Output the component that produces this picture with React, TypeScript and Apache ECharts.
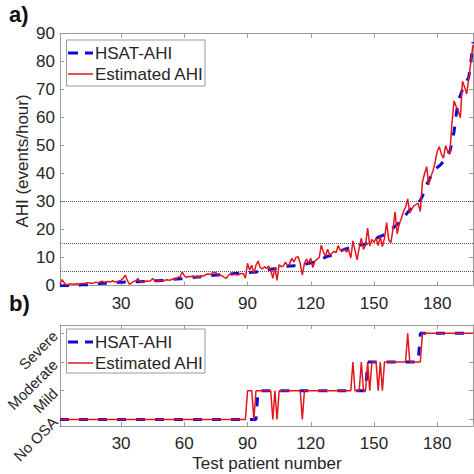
import React, { useEffect, useRef } from "react";
import * as echarts from "echarts";

// ---------- data ----------
const xTicks = [30, 60, 90, 120, 150, 180];
const ahiTicksMax = 90;
const thresholds = [5, 15, 30];
const classLabels = ["No OSA", "Mild", "Moderate", "Severe"];
const classTicks = [0, 1, 2, 3];

// HSAT-AHI, patients 1..197 (sorted)
const hsatAhi = [
  0, 0, 0, 0, 0, 0.1, 0.1, 0.2, 0.2, 0.2,
  0.3, 0.3, 0.3, 0.3, 0.4, 0.5, 0.6, 0.7, 0.8, 0.8,
  0.9, 0.9, 0.9, 1.0, 1.0, 1.0, 1.1, 1.1, 1.2, 1.2,
  1.2, 1.3, 1.3, 1.3, 1.3, 1.4, 1.4, 1.4, 1.4, 1.5,
  1.5, 1.5, 1.6, 1.6, 1.7, 1.8, 1.8, 1.8, 1.9, 1.9,
  2.0, 2.0, 2.1, 2.2, 2.3, 2.4, 2.4, 2.5, 2.5, 2.6,
  2.7, 2.8, 2.9, 3.0, 3.0, 3.1, 3.1, 3.2, 3.2, 3.3,
  3.4, 3.5, 3.6, 3.7, 3.8, 3.8, 3.9, 3.9, 4.0, 4.0,
  4.1, 4.2, 4.3, 4.4, 4.4, 4.5, 4.5, 4.6, 4.6, 4.7,
  4.7, 4.8, 4.8, 4.9, 5.0, 5.1, 5.2, 5.3, 5.5, 5.7,
  5.9, 6.0, 6.1, 6.2, 6.3, 6.5, 6.6, 6.8, 6.9, 7.0,
  7.0, 7.1, 7.1, 7.2, 7.3, 7.5, 7.6, 7.8, 8.0, 8.1,
  8.3, 8.4, 8.7, 9.0, 9.4, 9.8, 10.2, 10.5, 10.7, 10.9,
  11.2, 11.6, 12.0, 12.4, 12.7, 13.0, 13.2, 13.4, 13.6, 13.8,
  14.0, 14.2, 14.4, 14.6, 14.7, 14.9, 15.2, 15.6, 16.0, 16.4,
  16.9, 17.3, 17.6, 17.9, 18.3, 18.8, 19.4, 20.0, 20.6, 21.2,
  21.8, 22.6, 23.4, 24.3, 25.2, 26.2, 27.0, 27.8, 28.5, 29.1,
  29.7, 30.5, 32.0, 34.0, 36.0, 37.5, 39.0, 40.5, 41.5, 42.2,
  42.8, 43.5, 44.5, 45.5, 47.0, 48.0, 51.0, 55.0, 61.0, 66.0,
  68.0, 70.0, 71.5, 73.0, 74.5, 80.0, 87.0,
];

// Estimated AHI, patients 1..197
const estAhi = [
  0.5, 2.2, 1.0, 0.3, 0.5, 0.6, 0.6, 0.5, 0.7, 0.6,
  0.7, 0.8, 0.9, 1.1, 1.0, 0.9, 1.0, 1.2, 1.1, 1.3,
  1.6, 1.2, 1.4, 1.5, 1.3, 1.8, 1.3, 1.5, 1.7, 2.0,
  2.6, 3.8, 1.8, 0.5, 1.0, 1.5, 1.8, 2.6, 1.4, 1.2,
  1.5, 1.7, 1.6, 1.8, 2.6, 1.6, 1.5, 1.8, 1.9, 1.8,
  2.0, 2.1, 1.9, 2.2, 2.5, 2.3, 3.0, 3.2, 4.9, 3.5,
  3.0, 3.3, 3.2, 3.5, 3.1, 3.3, 3.0, 3.6, 3.4, 3.9,
  4.2, 4.0, 4.4, 4.8, 4.6, 3.8, 3.7, 3.5, 3.0, 2.6,
  3.8, 4.2, 3.9, 4.1, 3.8, 4.0, 4.4, 4.3, 2.7, 8.0,
  5.6, 7.3, 4.3, 7.3, 8.8, 6.5, 6.0, 6.8, 6.2, 7.0,
  5.5, 2.6, 6.5, 1.9, 7.5, 6.8, 7.0, 8.4, 7.2, 7.8,
  9.8, 8.5, 10.1, 10.4, 8.0, 3.8, 8.0, 9.5, 8.0, 9.8,
  6.5, 8.8, 9.5, 10.0, 14.5, 12.0, 10.5, 13.0, 11.0, 11.5,
  12.3, 11.8, 14.3, 12.7, 12.5, 13.0, 12.0, 12.8, 9.9, 16.0,
  12.5, 9.2, 13.5, 17.0, 13.0, 14.5, 20.6, 14.2, 16.5, 15.5,
  17.0, 14.3, 17.5, 14.0, 17.0, 22.5, 16.5, 15.3, 20.0, 26.4,
  18.5, 22.0, 24.0, 26.4, 28.0, 31.0, 26.0, 27.5, 28.5, 29.0,
  29.5, 26.5, 37.0, 40.0, 42.5, 36.0, 39.0, 41.0, 44.0, 48.0,
  49.6, 47.0, 45.6, 50.0, 48.0, 47.0, 58.0, 66.0, 64.0, 62.5,
  60.0, 73.0, 71.0, 68.5, 74.0, 80.0, 86.0,
];

// ---------- styles ----------
const FONT = "'Liberation Sans', Arial, Helvetica, sans-serif";
const TXT = "#262626";
const AX = "#9a9a9a";
const BLUE = "#0b0bd8";
const RED = "#e3161c";
const FS = 17;
const FS_ROT = 15;

const toClass = (v: number) =>
  v < thresholds[0] ? 0 : v < thresholds[1] ? 1 : v < thresholds[2] ? 2 : 3;

export default function App() {
  const ref = useRef<HTMLDivElement>(null);

  useEffect(() => {
    if (!ref.current) return;
    const chart = echarts.init(ref.current, undefined, { renderer: "svg" });
    const n = hsatAhi.length;
    const xMin = 1;
    const xMax = n;

    const hsatPts = hsatAhi.map((v, i) => [i + 1, v]);
    const estPts = estAhi.map((v, i) => [i + 1, v]);
    const hsatCls = hsatAhi.map((v, i) => [i + 1, toClass(v)]);
    const estCls = estAhi.map((v, i) => [i + 1, toClass(v)]);

    const xAx = (gridIndex: number, position: string, showLabel: boolean) => ({
      type: "value",
      gridIndex,
      position,
      min: xMin,
      max: xMax,
      axisLine: { show: true, onZero: false, lineStyle: { color: AX, width: 1 } },
      axisTick: { show: true, inside: true, length: 4, customValues: xTicks, lineStyle: { color: AX } },
      axisLabel: {
        show: showLabel,
        customValues: xTicks,
        color: TXT,
        fontSize: FS,
        margin: 9,
        fontFamily: FONT,
      },
      splitLine: { show: false },
    });

    const yAhi = (position: string, showLabel: boolean) => ({
      type: "value",
      gridIndex: 0,
      position,
      min: 0,
      max: ahiTicksMax,
      interval: 10,
      axisLine: { show: true, onZero: false, lineStyle: { color: AX, width: 1 } },
      axisTick: { show: true, inside: true, length: 4, lineStyle: { color: AX } },
      axisLabel: { show: showLabel, color: TXT, fontSize: FS, margin: 5, fontFamily: FONT },
      splitLine: { show: false },
    });

    const yCls = (position: string, showLabel: boolean) => ({
      type: "value",
      gridIndex: 1,
      position,
      min: -0.23,
      max: 3.29,
      axisLine: { show: true, onZero: false, lineStyle: { color: AX, width: 1 } },
      axisTick: { show: true, inside: true, length: 4, customValues: classTicks, lineStyle: { color: AX } },
      axisLabel: {
        show: showLabel,
        customValues: classTicks,
        formatter: (v: number) => classLabels[Math.round(v)],
        rotate: 45,
        color: TXT,
        fontSize: FS_ROT,
        margin: 5,
        fontFamily: FONT,
      },
      splitLine: { show: false },
    });

    const legend = (top: number, h: number) => ({
      type: "group",
      z: 100,
      children: [
        {
          type: "rect",
          shape: { x: 66.5, y: top, width: 138.5, height: h },
          style: { fill: "#fff", stroke: AX, lineWidth: 1 },
        },
        {
          type: "line",
          shape: { x1: 68, y1: top + 13, x2: 93, y2: top + 13 },
          style: { stroke: BLUE, lineWidth: 3, lineDash: [10, 7] },
        },
        {
          type: "text",
          x: 95,
          y: top + 13,
          style: { text: "HSAT-AHI", fill: TXT, fontSize: FS, fontFamily: FONT, verticalAlign: "middle" },
        },
        {
          type: "line",
          shape: { x1: 68, y1: top + 34, x2: 93, y2: top + 34 },
          style: { stroke: RED, lineWidth: 1.5 },
        },
        {
          type: "text",
          x: 95,
          y: top + 34,
          style: { text: "Estimated AHI", fill: TXT, fontSize: FS, fontFamily: FONT, verticalAlign: "middle" },
        },
      ],
    });

    const option = {
      animation: false,
      textStyle: { fontFamily: FONT },
      grid: [
        { left: 60, top: 33.7, width: 413, height: 252, containLabel: false, outerBoundsMode: "none" },
        { left: 60, top: 325, width: 413, height: 101, containLabel: false, outerBoundsMode: "none" },
      ],
      xAxis: [xAx(0, "bottom", true), xAx(0, "top", false), xAx(1, "bottom", true), xAx(1, "top", false)],
      yAxis: [yAhi("left", true), yAhi("right", false), yCls("left", true), yCls("right", false)],
      series: [
        {
          type: "line",
          name: "HSAT-AHI",
          xAxisIndex: 0,
          yAxisIndex: 0,
          data: hsatPts,
          showSymbol: false,
          symbol: "none",
          lineStyle: { color: BLUE, width: 3, type: [9, 10], cap: "butt" },
          z: 2,
          markLine: {
            silent: true,
            symbol: "none",
            label: { show: false },
            lineStyle: { color: "#555", width: 1, type: "dotted" },
            data: thresholds.map((t) => ({ yAxis: t })),
            z: 1,
          },
        },
        {
          type: "line",
          name: "Estimated AHI",
          xAxisIndex: 0,
          yAxisIndex: 0,
          data: estPts,
          showSymbol: false,
          symbol: "none",
          lineStyle: { color: RED, width: 1.5 },
          z: 3,
        },
        {
          type: "line",
          name: "HSAT class",
          xAxisIndex: 2,
          yAxisIndex: 2,
          data: hsatCls,
          showSymbol: false,
          symbol: "none",
          lineStyle: { color: BLUE, width: 3, type: [9, 10], cap: "butt" },
          z: 2,
        },
        {
          type: "line",
          name: "Estimated class",
          xAxisIndex: 2,
          yAxisIndex: 2,
          data: estCls,
          showSymbol: false,
          symbol: "none",
          lineStyle: { color: RED, width: 1.5 },
          z: 3,
        },
      ],
      graphic: [
        {
          type: "text",
          x: 9,
          y: 3,
          style: { text: "a)", fill: "#111", fontSize: 22, fontWeight: "bold", fontFamily: FONT },
        },
        {
          type: "text",
          x: 9,
          y: 292,
          style: { text: "b)", fill: "#111", fontSize: 22, fontWeight: "bold", fontFamily: FONT },
        },
        {
          type: "text",
          x: 22,
          y: 161,
          rotation: Math.PI / 2,
          style: {
            text: "AHI (events/hour)",
            fill: TXT,
            fontSize: FS,
            fontFamily: FONT,
            align: "center",
            verticalAlign: "middle",
          },
        },
        {
          type: "text",
          x: 267,
          y: 463,
          style: {
            text: "Test patient number",
            fill: TXT,
            fontSize: FS,
            fontFamily: FONT,
            align: "center",
            verticalAlign: "middle",
          },
        },
        legend(40, 46),
        legend(329, 44),
      ],
    };

    chart.setOption(option as any);
    return () => chart.dispose();
  }, []);

  return (
    <div
      ref={ref}
      style={{ position: "fixed", left: 0, top: 0, width: 474, height: 474, background: "#fff" }}
    />
  );
}
